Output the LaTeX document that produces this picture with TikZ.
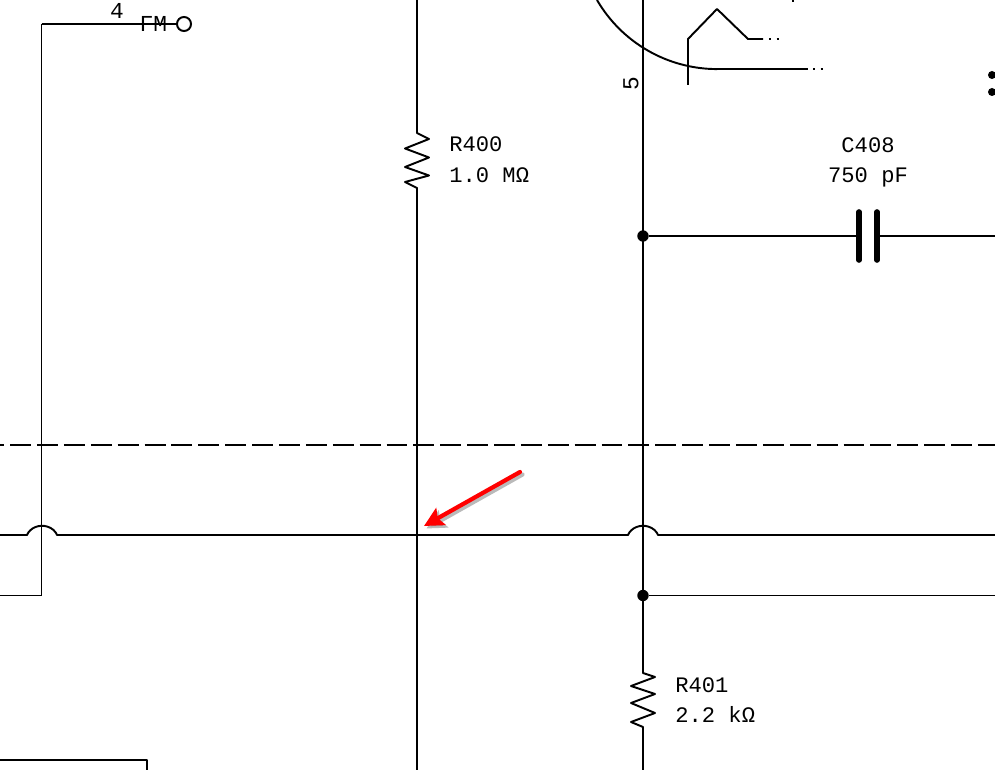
\documentclass[tikz,border=0pt]{standalone}
\usepackage{fontspec}
\setmainfont{Liberation Mono}
\usetikzlibrary{arrows.meta}

\tikzset{
  wire/.style={line width=1.1pt,line join=round},
  thinwire/.style={line width=0.75pt},
  plate/.style={line width=3.2pt,line cap=round},
  junction/.style={circle,fill=black,inner sep=0pt,minimum size=6.5pt},
  terminal/.style={circle,draw,fill=white,line width=1.1pt,inner sep=0pt,minimum size=8pt},
  label/.style={inner sep=0pt,anchor=base west,font=\fontsize{12.6}{14}\selectfont},
  pinlabel/.style={inner sep=0pt,font=\fontsize{13}{15}\selectfont},
  pointer/.style={line width=2.4pt,line cap=round,-{Stealth[length=11pt,width=11pt,inset=2pt]}}
}

\begin{document}
\begin{tikzpicture}[x=0.02cm,y=-0.02cm]
\useasboundingbox (0,0) rectangle (995,770);

% fixed points
\coordinate (fmcorner) at (41.5,24);
\coordinate (fmfoot) at (41.5,595.5);
\coordinate (fmleft) at (0,595.5);
\coordinate (rfourtop) at (417,0);
\coordinate (rfourin) at (417,133);
\coordinate (rfourout) at (417,188);
\coordinate (rfourend) at (417,770);
\coordinate (mainleft) at (0,535);
\coordinate (mainright) at (995,535);
\coordinate (busright) at (995,595.5);
\coordinate (midtop) at (643,0);
\coordinate (midin) at (643,673);
\coordinate (midout) at (643,727);
\coordinate (midend) at (643,770);
\coordinate (capleft) at (859,236);
\coordinate (capright) at (877,236);
\coordinate (capend) at (995,236);
\coordinate (dashleft) at (0,445);
\coordinate (dashright) at (995,445);

\node[terminal] (fm) at (184,24) {};
\node[junction] (jcap) at (643,236) {};
\node[junction] (jbus) at (643,595.5) {};

% left hand wire
\draw[wire] (fmcorner) -- (fm);
\draw[thinwire] (fmcorner) -- (fmfoot) -- (fmleft);
\node[pinlabel] (pinfour) at (117,11) {4};
\node[pinlabel,anchor=base] (pinfm) at (153.5,32) {FM};

% R400
\draw[wire] (rfourtop) -- (rfourin) -- (429,139) -- (405,148.5) -- (429,157.5) -- (405,167)
  -- (429,175.5) -- (405,182) -- (rfourout) -- (rfourend);
\node[label] (rfourname) at (449,152) {R400};
\node[label] (rfourval) at (449,183) {1.0 MΩ};

% middle wire and R401
\draw[wire] (midtop) -- (midin) -- (655,677) -- (631,686) -- (655,694) -- (631,703)
  -- (655,713) -- (631,722) -- (midout) -- (midend);
\node[label] (ronename) at (675,692) {R401};
\node[label] (roneval) at (675,722) {2.2 kΩ};
\node[pinlabel,rotate=90] (pinfive) at (631,84) {5};

% C408
\draw[wire] (jcap) -- (capleft);
\draw[wire] (capright) -- (capend);
\draw[plate] (859,212) -- (859,260);
\draw[plate] (877,212) -- (877,260);
\node[label,anchor=base] (capname) at (868,153) {C408};
\node[label,anchor=base] (capval) at (868,183) {750 pF};

% separation line
\draw[wire,dash pattern=on 11.9pt off 3.4pt,dash phase=9.5pt] (dashleft) -- (dashright);

% crossing wire with its hops
\draw[wire] (mainleft) -- (27,535) arc[start angle=200,end angle=340,x radius=16,y radius=14]
  -- (628,535) arc[start angle=200,end angle=340,x radius=16,y radius=14] -- (mainright);
\draw[thinwire] (jbus) -- (busright);

% box corner
\draw[wire] (0,760) -- (147,760) -- (147,770);

% transistor
\draw[wire] (597,0) arc[start angle=149.8,end angle=90,radius=139];
\draw[thinwire] (717,69) -- (808,69);
\draw[thinwire,dash pattern=on 1.2pt off 3.2pt] (813,69) -- (825,69);
\draw[wire] (688,85) -- (688,39) -- (717,9) -- (748,39) -- (763,39);
\draw[thinwire,dash pattern=on 1.2pt off 3.2pt] (769,39) -- (781,39);
\draw[wire] (793,0) -- (793,2);
\fill (992,75) circle (4);
\fill (992,92) circle (4);

% red pointer
\coordinate (pointertail) at (520,472);
\coordinate (pointertip) at (424,526);
\draw[pointer,black!45,opacity=0.6] ([shift={(2.5,2.5)}]pointertail) -- ([shift={(2.5,2.5)}]pointertip);
\draw[pointer,red] (pointertail) -- (pointertip);

\end{tikzpicture}
\end{document}
